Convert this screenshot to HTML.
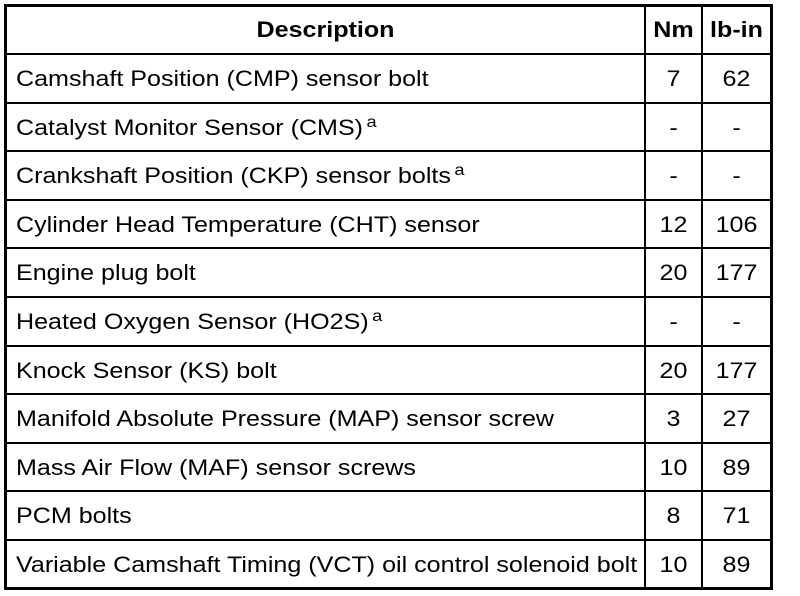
<!DOCTYPE html>
<html><head><meta charset="utf-8"><style>
html,body{margin:0;padding:0;background:#fff;width:800px;height:596px;overflow:hidden}
body{position:relative;font-family:"Liberation Sans",Arial,sans-serif;color:#000}
.box{position:absolute;left:4px;top:4px;width:763px;height:580px;border:3px solid #000}
.h{position:absolute;left:7px;width:763px;height:2px;background:#000}
.v{position:absolute;top:7px;width:2px;height:580px;background:#000}
.t{position:absolute;font-size:22px;line-height:26px;white-space:nowrap;transform:scaleX(1.14);transform-origin:0 0}
.c{text-align:center;transform-origin:50% 0}
sup{font-size:16px;vertical-align:0;position:relative;top:-8px;margin-left:3px}
</style></head><body>
<div class="box"></div>
<div class="v" style="left:644px"></div>
<div class="v" style="left:701px"></div>
<div id="g"></div>
<script>
var rows=[["Camshaft Position (CMP) sensor bolt","7","62"],
["Catalyst Monitor Sensor (CMS)<sup>a</sup>","-","-"],
["Crankshaft Position (CKP) sensor bolts<sup>a</sup>","-","-"],
["Cylinder Head Temperature (CHT) sensor","12","106"],
["Engine plug bolt","20","177"],
["Heated Oxygen Sensor (HO2S)<sup>a</sup>","-","-"],
["Knock Sensor (KS) bolt","20","177"],
["Manifold Absolute Pressure (MAP) sensor screw","3","27"],
["Mass Air Flow (MAF) sensor screws","10","89"],
["PCM bolts","8","71"],
["Variable Camshaft Timing (VCT) oil control solenoid bolt","10","89"]];
var h='';
h+='<div class="t c" style="left:7px;width:637px;top:17px;font-weight:bold">Description</div>';
h+='<div class="t c" style="left:646px;width:55px;top:17px;font-weight:bold">Nm</div>';
h+='<div class="t c" style="left:703px;width:67px;top:17px;font-weight:bold">lb-in</div>';
var y0=53,rh=48.6;
for(var i=0;i<rows.length;i++){
 var y=y0+i*rh;
 h+='<div class="h" style="top:'+Math.round(y)+'px"></div>';
 var ty=Math.round(y+13);
 h+='<div class="t" style="left:16px;top:'+ty+'px">'+rows[i][0]+'</div>';
 h+='<div class="t c" style="left:646px;width:55px;top:'+ty+'px">'+rows[i][1]+'</div>';
 h+='<div class="t c" style="left:703px;width:67px;top:'+ty+'px">'+rows[i][2]+'</div>';
}
document.getElementById('g').innerHTML=h;
</script>
</body></html>
